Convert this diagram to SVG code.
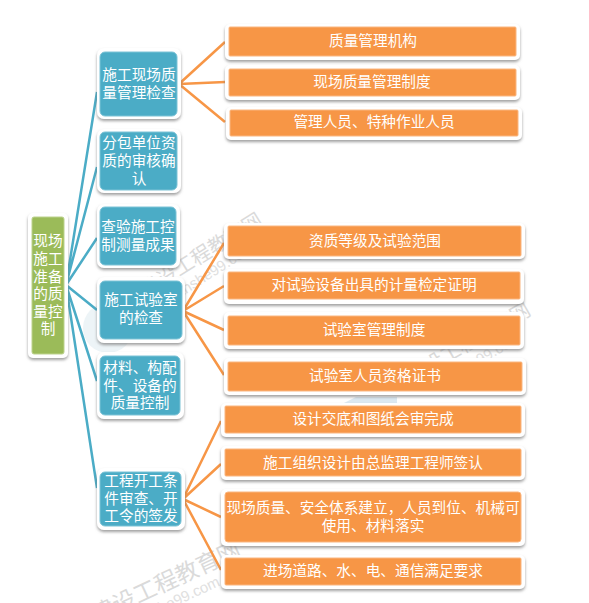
<svg xmlns="http://www.w3.org/2000/svg" width="589" height="603" viewBox="0 0 589 603">
<style>
text{font-family:"Noto Sans CJK SC","Noto Sans",sans-serif}
.o{fill:#fff;filter:url(#s)}
.g{fill:#9bbb59;stroke:#bcd28d;stroke-width:1}.b{fill:#4bacc6;stroke:#7cc3d6;stroke-width:1}.r{fill:#f79646;stroke:#fab680;stroke-width:1}
.t{fill:#fff;font-size:14.67px;text-anchor:middle}
.w{fill:#dadada;font-size:20px;text-anchor:middle}
.u{fill:#e0e0e0;font-size:15px;text-anchor:middle;font-family:"Liberation Sans",sans-serif}
.cb{fill:none;stroke:#4bacc6;stroke-width:2.5}
.co{fill:none;stroke:#f79646;stroke-width:2.5}
</style>
<defs><filter id="s" x="-20%" y="-20%" width="140%" height="140%"><feDropShadow dx="0" dy="2" stdDeviation="1.5" flood-color="#777" flood-opacity="0.7"/></filter></defs>
<g id="watermark">
<circle cx="108" cy="328" r="25" fill="#edf4f7"/>
<path d="M344 403L356 397H397V403Z" fill="#dce9f2"/>
<g transform="translate(201 255) rotate(-32)"><text class="w" y="7">建设工程教育网</text><text class="u" y="25">jianshe99.com</text></g>
<g transform="translate(468 343) rotate(-30)"><text class="w" y="7">建设工程教育网</text><text class="u" y="25">jianshe99.com</text></g>
<g transform="translate(166 582) rotate(-25)"><text class="w" y="8" style="font-size:23px">建设工程教育网</text><text class="u" y="26">jianshe99.com</text></g>
</g>
<g id="connectors">
<path class="cb" d="M66 285L97 92M66 285L97 167M66 285L97 238M66 285L97 310M66 285L97 381M66 285L97 488"/>
<path class="co" d="M179 84L225 42M179 84L225 82M179 84L225 122"/>
<path class="co" d="M183 311L224 243M183 311L224 286M183 311L224 330M183 311L224 375"/>
<path class="co" d="M183 499L221 421M183 499L221 464M183 499L221 517M183 499L221 570"/>
</g>
<g id="root"><rect class="o" x="28" y="213" width="40" height="145" rx="5"/><rect class="g" x="32" y="217" width="32" height="137" rx="2"/>
<text class="t"><tspan x="48" y="246">现场</tspan><tspan x="48" y="264">施工</tspan><tspan x="48" y="282">准备</tspan><tspan x="48" y="299">的质</tspan><tspan x="48" y="317">量控</tspan><tspan x="48" y="334">制</tspan></text></g>
<g id="b1"><rect class="o" x="97" y="48" width="84" height="71" rx="7"/><rect class="b" x="100" y="52" width="77" height="64" rx="5"/>
<text class="t"><tspan x="139" y="80">施工现场质</tspan><tspan x="139" y="98">量管理检查</tspan></text></g>
<g id="b2"><rect class="o" x="97" y="129" width="84" height="64" rx="7"/><rect class="b" x="100" y="132" width="77" height="58" rx="5"/>
<text class="t"><tspan x="139" y="148">分包单位资</tspan><tspan x="139" y="166">质的审核确</tspan><tspan x="139" y="184">认</tspan></text></g>
<g id="b3"><rect class="o" x="97" y="204" width="83" height="64" rx="7"/><rect class="b" x="100" y="207" width="76" height="58" rx="5"/>
<text class="t"><tspan x="138" y="232">查验施工控</tspan><tspan x="138" y="250">制测量成果</tspan></text></g>
<g id="b4"><rect class="o" x="97" y="277" width="88" height="66" rx="7"/><rect class="b" x="100" y="281" width="82" height="58" rx="5"/>
<text class="t"><tspan x="141" y="305">施工试验室</tspan><tspan x="141" y="323">的检查</tspan></text></g>
<g id="b5"><rect class="o" x="97" y="352" width="87" height="67" rx="7"/><rect class="b" x="100" y="356" width="80" height="59" rx="5"/>
<text class="t"><tspan x="140" y="373">材料、构配</tspan><tspan x="140" y="391">件、设备的</tspan><tspan x="140" y="408">质量控制</tspan></text></g>
<g id="b6"><rect class="o" x="97" y="468" width="88" height="62" rx="7"/><rect class="b" x="100" y="472" width="81" height="54" rx="5"/>
<text class="t"><tspan x="141" y="486">工程开工条</tspan><tspan x="141" y="504">件审查、开</tspan><tspan x="141" y="521">工令的签发</tspan></text></g>
<g id="o1"><rect class="o" x="225" y="24" width="295" height="36" rx="5"/><rect class="r" x="229" y="27" width="287" height="29" rx="1"/><text class="t" x="373" y="46">质量管理机构</text></g>
<g id="o2"><rect class="o" x="225" y="65" width="295" height="35" rx="5"/><rect class="r" x="229" y="69" width="287" height="27" rx="1"/><text class="t" x="372" y="87">现场质量管理制度</text></g>
<g id="o3"><rect class="o" x="226" y="107" width="296" height="33" rx="5"/><rect class="r" x="230" y="110" width="288" height="26" rx="1"/><text class="t" x="374" y="127">管理人员、特种作业人员</text></g>
<g id="o4"><rect class="o" x="224" y="223" width="301" height="36" rx="5"/><rect class="r" x="228" y="226" width="293" height="30" rx="1"/><text class="t" x="375" y="246">资质等级及试验范围</text></g>
<g id="o5"><rect class="o" x="224" y="269" width="300" height="35" rx="5"/><rect class="r" x="228" y="272" width="292" height="27" rx="1"/><text class="t" x="374" y="290">对试验设备出具的计量检定证明</text></g>
<g id="o6"><rect class="o" x="224" y="312" width="300" height="37" rx="5"/><rect class="r" x="228" y="316" width="292" height="29" rx="1"/><text class="t" x="374" y="335">试验室管理制度</text></g>
<g id="o7"><rect class="o" x="224" y="358" width="302" height="37" rx="5"/><rect class="r" x="228" y="362" width="294" height="29" rx="1"/><text class="t" x="375" y="381">试验室人员资格证书</text></g>
<g id="o8"><rect class="o" x="221" y="403" width="304" height="34" rx="5"/><rect class="r" x="225" y="406" width="296" height="27" rx="1"/><text class="t" x="373" y="424">设计交底和图纸会审完成</text></g>
<g id="o9"><rect class="o" x="221" y="446" width="304" height="34" rx="5"/><rect class="r" x="225" y="449" width="296" height="27" rx="1"/><text class="t" x="373" y="468">施工组织设计由总监理工程师签认</text></g>
<g id="o10"><rect class="o" x="221" y="489" width="304" height="57" rx="5"/><rect class="r" x="225" y="492" width="296" height="50" rx="3"/><text class="t"><tspan x="373" y="513">现场质量、安全体系建立，人员到位、机械可</tspan><tspan x="373" y="531">使用、材料落实</tspan></text></g>
<g id="o11"><rect class="o" x="221" y="555" width="304" height="34" rx="5"/><rect class="r" x="225" y="558" width="296" height="27" rx="1"/><text class="t" x="373" y="576">进场道路、水、电、通信满足要求</text></g>
</svg>
